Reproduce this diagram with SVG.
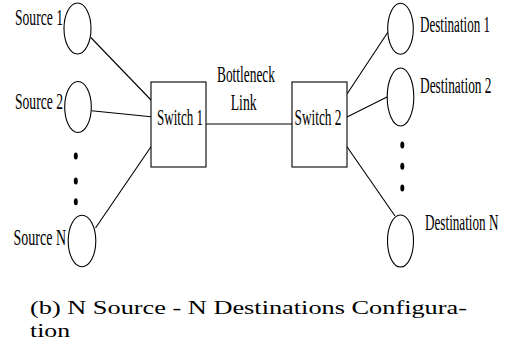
<svg xmlns="http://www.w3.org/2000/svg" width="511" height="358" viewBox="0 0 511 358">
  <style>
    .node { fill: #fff; stroke: #000; stroke-width: 1.1; }
    .dot { fill: #000; }
    .lbl { font-family: "Liberation Serif", "Times New Roman", serif; font-size: 13px; fill: #000; }
    .cap { font-family: "Liberation Serif", "Times New Roman", serif; font-size: 19.5px; fill: #000; }
    #connectors line { stroke: #000; stroke-width: 1.1; }
  </style>
  <rect width="511" height="358" fill="#fff"/>

  <g id="connectors">
    <line x1="90.8" y1="37.5" x2="151" y2="100"/>
    <line x1="91.5" y1="110.7" x2="151" y2="116.7"/>
    <line x1="95.5" y1="228" x2="151" y2="146.7"/>
    <line x1="206" y1="124" x2="292" y2="124"/>
    <line x1="347" y1="94" x2="388" y2="32"/>
    <line x1="347" y1="117" x2="387.5" y2="96.7"/>
    <line x1="347" y1="146.7" x2="395" y2="216"/>
  </g>

  <g id="source1">
    <ellipse class="node" cx="77.5" cy="28.5" rx="13.5" ry="25.5"/>
    <text class="lbl" transform="translate(15,25) scale(1,1.85)" textLength="48" lengthAdjust="spacingAndGlyphs">Source 1</text>
  </g>
  <g id="source2">
    <ellipse class="node" cx="78" cy="107" rx="13.3" ry="25.5"/>
    <text class="lbl" transform="translate(15,109) scale(1,1.85)" textLength="48" lengthAdjust="spacingAndGlyphs">Source 2</text>
  </g>
  <g id="source-dots">
    <ellipse class="dot" cx="75.8" cy="156" rx="2" ry="3.5"/>
    <ellipse class="dot" cx="75.8" cy="181" rx="2" ry="3.5"/>
    <ellipse class="dot" cx="75.8" cy="201.7" rx="2" ry="3.5"/>
  </g>
  <g id="sourceN">
    <ellipse class="node" cx="82" cy="241" rx="13.8" ry="25.8"/>
    <text class="lbl" transform="translate(13.5,245) scale(1,1.85)" textLength="52.5" lengthAdjust="spacingAndGlyphs">Source N</text>
  </g>

  <g id="switch1">
    <rect class="node" x="151" y="82" width="55" height="85"/>
    <text class="lbl" transform="translate(157,125) scale(1,1.85)" textLength="46" lengthAdjust="spacingAndGlyphs">Switch 1</text>
  </g>
  <g id="switch2">
    <rect class="node" x="292" y="82" width="55" height="85"/>
    <text class="lbl" transform="translate(294.5,125) scale(1,1.85)" textLength="47" lengthAdjust="spacingAndGlyphs">Switch 2</text>
  </g>
  <g id="bottleneck-label">
    <text class="lbl" transform="translate(217,82) scale(1,1.85)" textLength="58" lengthAdjust="spacingAndGlyphs">Bottleneck</text>
    <text class="lbl" transform="translate(230.7,110) scale(1,1.85)" textLength="26" lengthAdjust="spacingAndGlyphs">Link</text>
  </g>

  <g id="destination1">
    <ellipse class="node" cx="400.5" cy="28.7" rx="12.8" ry="25.5"/>
    <text class="lbl" transform="translate(420,31.7) scale(1,1.85)" textLength="70" lengthAdjust="spacingAndGlyphs">Destination 1</text>
  </g>
  <g id="destination2">
    <ellipse class="node" cx="400.5" cy="97" rx="13.3" ry="29"/>
    <text class="lbl" transform="translate(420,93.3) scale(1,1.85)" textLength="71.5" lengthAdjust="spacingAndGlyphs">Destination 2</text>
  </g>
  <g id="destination-dots">
    <ellipse class="dot" cx="402.3" cy="145" rx="2" ry="3.5"/>
    <ellipse class="dot" cx="402.3" cy="166.2" rx="2" ry="3.5"/>
    <ellipse class="dot" cx="402.3" cy="188" rx="2" ry="3.5"/>
  </g>
  <g id="destinationN">
    <ellipse class="node" cx="400.5" cy="241" rx="13" ry="26"/>
    <text class="lbl" transform="translate(425,230) scale(1,1.85)" textLength="73.5" lengthAdjust="spacingAndGlyphs">Destination N</text>
  </g>

  <g id="caption">
    <text class="cap" x="30" y="314" textLength="437" lengthAdjust="spacingAndGlyphs">(b) N Source - N Destinations Configura-</text>
    <text class="cap" x="30" y="337" textLength="40" lengthAdjust="spacingAndGlyphs">tion</text>
  </g>
</svg>
